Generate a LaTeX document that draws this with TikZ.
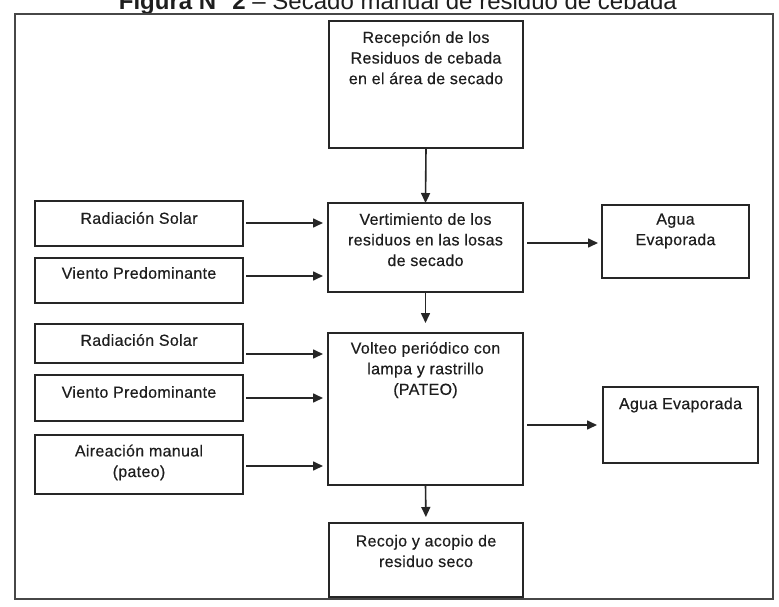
\documentclass[tikz,border=0pt]{standalone}
\usepackage{fontspec}
\setmainfont{Liberation Sans}
\newfontfamily\boxfont[FakeBold=0.4, LetterSpace=2]{Liberation Sans}
\usetikzlibrary{arrows.meta}
\definecolor{lineclr}{HTML}{262626}
\definecolor{txtclr}{HTML}{1E1E1E}
\begin{document}
\begin{tikzpicture}[x=1pt,y=-1pt,
  box/.style={draw=lineclr, line width=1.9pt, inner sep=0pt, outer sep=0pt, anchor=north west},
  txt/.style={text=txtclr, font=\boxfont\fontsize{16}{20.6}\selectfont, align=center, inner sep=0pt, anchor=center},
  conn/.style={draw=lineclr, line width=1.6pt, -{Triangle[length=10pt,width=9pt]}},
  frame/.style={draw=lineclr!85, line width=1.4pt}
]
\useasboundingbox (0,0) rectangle (779,607);
\clip (0,0) rectangle (779,607);
\fill[white] (0,0) rectangle (779,607);

% title (cut at the top edge, as in the reference)
\node[anchor=base east, inner sep=0pt, text=txtclr, font=\fontsize{24}{28}\selectfont] (title) at (677,10)
  {\textbf{Figura N° 2} – Secado manual de residuo de cebada};

% outer frame
\draw[frame] (15,14) rectangle (773,599);

% boxes
\node[box, minimum width=194pt, minimum height=127pt] (rec)    at (329,21)  {};
\node[box, minimum width=195pt, minimum height=89pt]  (vert)   at (328,203) {};
\node[box, minimum width=195pt, minimum height=152pt] (volt)   at (328,333) {};
\node[box, minimum width=194pt, minimum height=74pt]  (recojo) at (329,523) {};
\node[box, minimum width=147pt, minimum height=73pt]  (agua1)  at (602,205) {};
\node[box, minimum width=155pt, minimum height=76pt]  (agua2)  at (603,387) {};
\node[box, minimum width=208pt, minimum height=45pt]  (rad1)   at (35,201)  {};
\node[box, minimum width=208pt, minimum height=45pt]  (vien1)  at (35,258)  {};
\node[box, minimum width=208pt, minimum height=39pt]  (rad2)   at (35,324)  {};
\node[box, minimum width=208pt, minimum height=46pt]  (vien2)  at (35,375)  {};
\node[box, minimum width=208pt, minimum height=59pt]  (aire)   at (35,435)  {};

% texts
\node[txt] (trec)    at ([yshift=-36.7pt]rec.north)    {Recepción de los\\Residuos de cebada\\en el área de secado};
\node[txt] (tvert)   at ([yshift=-36.7pt]vert.north)   {Vertimiento de los\\residuos en las losas\\de secado};
\node[txt] (tvolt)   at ([yshift=-37pt]volt.north)     {Volteo periódico con\\lampa y rastrillo\\(PATEO)};
\node[txt] (trecojo) at ([yshift=-28pt]recojo.north)   {Recojo y acopio de\\residuo seco};
\node[txt] (tagua1)  at ([yshift=-26pt]agua1.north)    {Agua\\Evaporada};
\node[txt] (tagua2)  at ([yshift=-18pt]agua2.north)    {Agua Evaporada};
\node[txt] (trad1)   at ([yshift=-17pt]rad1.north)     {Radiación Solar};
\node[txt] (tvien1)  at ([yshift=-15pt]vien1.north)    {Viento Predominante};
\node[txt] (trad2)   at ([yshift=-16pt]rad2.north)     {Radiación Solar};
\node[txt] (tvien2)  at ([yshift=-17pt]vien2.north)    {Viento Predominante};
\node[txt] (taire)   at ([yshift=-27.5pt]aire.north)   {Aireación manual\\(pateo)};

% vertical flow
\draw[conn] (rec.south) -- (vert.north);
\draw[conn, shorten >=10pt] (vert.south) -- (volt.north);
\draw[conn, shorten >=6pt] (volt.south) -- (recojo.north);

% inputs
\draw[conn, shorten <=3pt, shorten >=5pt] ([yshift=0.5pt]rad1.east) -- ([yshift=0.5pt]rad1.east -| vert.west);
\draw[conn, shorten <=3pt, shorten >=5pt] ([yshift=4.5pt]vien1.east) -- ([yshift=4.5pt]vien1.east -| vert.west);
\draw[conn, shorten <=3pt, shorten >=5pt] ([yshift=-10.5pt]rad2.east) -- ([yshift=-10.5pt]rad2.east -| volt.west);
\draw[conn, shorten <=3pt, shorten >=5pt] (vien2.east) -- (vien2.east -| volt.west);
\draw[conn, shorten <=3pt, shorten >=5pt] ([yshift=-1.5pt]aire.east) -- ([yshift=-1.5pt]aire.east -| volt.west);

% outputs
\draw[conn, shorten <=4pt, shorten >=4pt] ([yshift=4.5pt]vert.east) -- ([yshift=4.5pt]vert.east -| agua1.west);
\draw[conn, shorten <=4pt, shorten >=6pt] (agua2.west -| volt.east) -- (agua2.west);
\end{tikzpicture}
\end{document}
